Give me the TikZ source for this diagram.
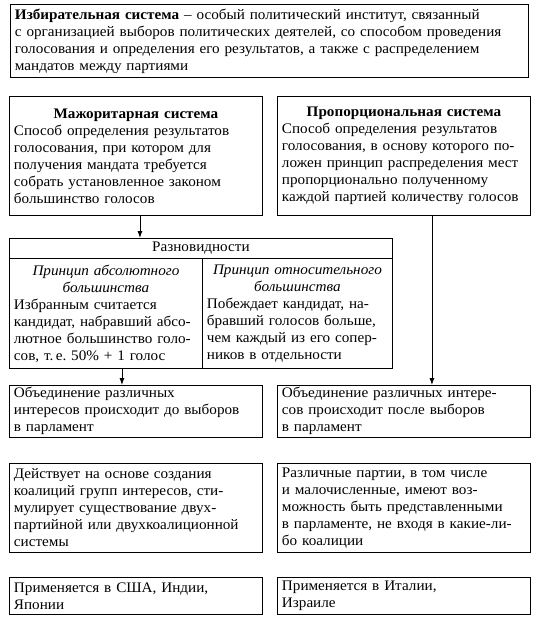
\documentclass[tikz,border=0pt]{standalone}
\usepackage{fontspec}
\setmainfont[FakeStretch=1.04]{Liberation Serif}
\usetikzlibrary{arrows.meta}
\frenchspacing
\newcommand{\fs}{\fontsize{14.6}{17}\selectfont}
\tikzset{
  box/.style={draw, line width=0.9pt, anchor=north west, inner xsep=4.5pt, inner ysep=2pt,
    align=left, font=\fs, text width=#1-9pt, minimum width=#1},
  arr/.style={line width=0.9pt, -{Latex[length=7pt,width=5pt]}},
}
\begin{document}
\begin{tikzpicture}[x=1pt,y=-1pt]
\path[use as bounding box] (0,0) rectangle (538,625);
\node[box=518pt, minimum height=73pt] (top) at (10,4)
 {\textbf{Избирательная система} – особый политический институт, связанный\\ с организацией выборов политических деятелей, со способом проведения\\ голосования и определения его результатов, а также с распределением\\ мандатов между партиями};
\node[box=253pt, minimum height=119pt] (maj) at (9,96)
 {{\centering\textbf{Мажоритарная система}\par}Способ определения результатов\\ голосования, при котором для\\ получения мандата требуется\\ собрать установленное законом\\ большинство голосов};
\node[box=253pt, minimum height=119pt] (prop) at (277,96)
 {{\centering\textbf{Пропорциональная система}\par}Способ определения результатов\\ голосования, в основу которого по-\\ ложен принцип распределения мест\\ пропорционально полученному\\ каждой партией количеству голосов};
\node[box=383pt, minimum height=20pt] (hdr) at (9,238)
 {{\centering Разновидности\par}};
\node[box=193pt, minimum height=110pt] (cl) at (9,258)
 {{\centering\itshape Принцип абсолютного\\ большинства\par}Избранным считается\\ кандидат, набравший абсо-\\ лютное большинство голо-\\ сов, т.\,е. 50\% + 1 голос};
\node[box=190pt, minimum height=110pt] (cr) at (202,258)
 {{\centering\itshape Принцип относительного\\ большинства\par}Побеждает кандидат, на-\\ бравший голосов больше,\\ чем каждый из его сопер-\\ ников в отдельности};
\node[box=253pt, minimum height=46pt] (r4l) at (9,385)
 {Объединение различных\\ интересов происходит до выборов\\ в парламент};
\node[box=253pt, minimum height=46pt] (r4r) at (277,385)
 {Объединение различных интере-\\ сов происходит после выборов\\ в парламент};
\node[box=253pt, minimum height=89pt] (r5l) at (9,463)
 {Действует на основе создания\\ коалиций групп интересов, сти-\\ мулирует существование двух-\\ партийной или двухкоалиционной\\ системы};
\node[box=253pt, minimum height=89pt] (r5r) at (277,463)
 {Различные партии, в том числе\\ и малочисленные, имеют воз-\\ можность быть представленными\\ в парламенте, не входя в какие-ли-\\ бо коалиции};
\node[box=253pt, minimum height=37pt] (r6l) at (9,577)
 {Применяется в США, Индии,\\ Японии};
\node[box=253pt, minimum height=37pt] (r6r) at (277,577)
 {Применяется в Италии,\\ Израиле};
\draw[arr] ([xshift=4pt]maj.south) -- ([xshift=4pt]maj.south |- hdr.north);
\draw[arr] ([xshift=16pt]cl.south) -- ([xshift=16pt]cl.south |- r4l.north);
\draw[arr] ([xshift=28pt]prop.south) -- ([xshift=28pt]prop.south |- r4r.north);
\end{tikzpicture}
\end{document}
